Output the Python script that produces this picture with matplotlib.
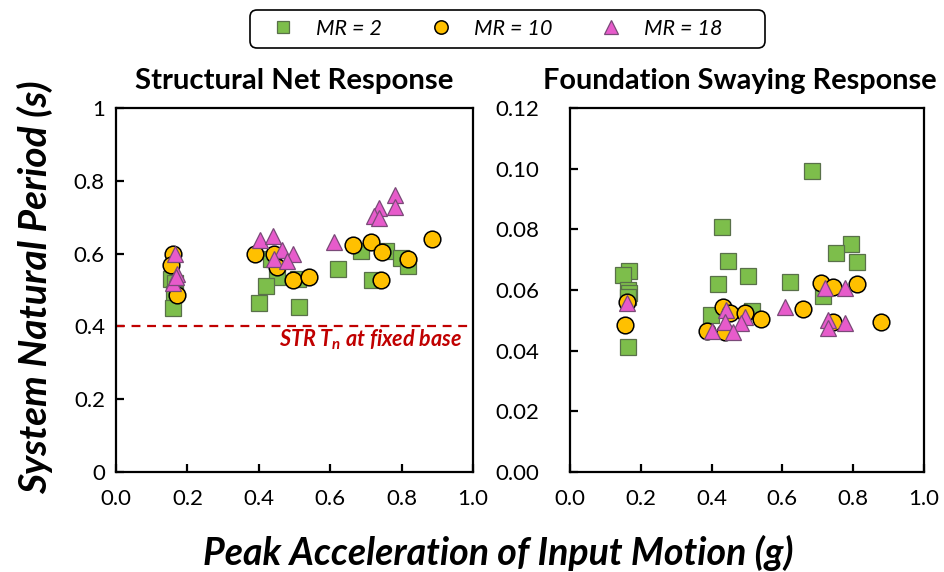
import matplotlib
matplotlib.use("Agg")
import matplotlib.pyplot as plt
from matplotlib.lines import Line2D
from matplotlib.patches import FancyBboxPatch

plt.rcParams['font.family'] = ['Lato', 'DejaVu Sans']

# Structural net response: (PGA [g], period [s])
str_mr2_x = [0.155, 0.165, 0.163, 0.160, 0.433, 0.450, 0.419, 0.400, 0.513, 0.510,
             0.623, 0.686, 0.717, 0.756, 0.799, 0.819]
str_mr2_y = [0.530, 0.520, 0.490, 0.450, 0.585, 0.535, 0.510, 0.464, 0.453, 0.530,
             0.558, 0.607, 0.527, 0.607, 0.588, 0.566]
str_mr10_x = [0.160, 0.155, 0.170, 0.388, 0.442, 0.450, 0.496, 0.541,
              0.663, 0.714, 0.745, 0.742, 0.819, 0.884]
str_mr10_y = [0.600, 0.570, 0.485, 0.600, 0.600, 0.563, 0.527, 0.535,
              0.624, 0.632, 0.604, 0.527, 0.585, 0.640]
str_mr18_x = [0.165, 0.170, 0.160, 0.168, 0.402, 0.440, 0.464, 0.496, 0.442, 0.480,
              0.612, 0.782, 0.782, 0.736, 0.722, 0.736]
str_mr18_y = [0.600, 0.545, 0.520, 0.535, 0.637, 0.648, 0.610, 0.600, 0.585, 0.580,
              0.632, 0.761, 0.728, 0.725, 0.703, 0.698]

# Foundation swaying response: (PGA [g], period [s])
fnd_mr2_x = [0.166, 0.149, 0.163, 0.166, 0.163, 0.163, 0.430, 0.447, 0.503, 0.419,
             0.399, 0.514, 0.683, 0.795, 0.750, 0.812, 0.621, 0.716]
fnd_mr2_y = [0.0663, 0.0650, 0.0600, 0.0590, 0.0577, 0.0412, 0.0808, 0.0696, 0.0646, 0.0620,
             0.0518, 0.0531, 0.0992, 0.0752, 0.0722, 0.0692, 0.0626, 0.0580]
fnd_mr10_x = [0.160, 0.154, 0.433, 0.452, 0.494, 0.539, 0.388, 0.438,
              0.708, 0.742, 0.812, 0.657, 0.744, 0.879]
fnd_mr10_y = [0.0560, 0.0485, 0.0544, 0.0524, 0.0524, 0.0504, 0.0465, 0.0462,
              0.0623, 0.0610, 0.0620, 0.0537, 0.0495, 0.0495]
fnd_mr18_x = [0.160, 0.441, 0.438, 0.494, 0.483, 0.402, 0.461,
              0.719, 0.778, 0.607, 0.728, 0.730, 0.778]
fnd_mr18_y = [0.0557, 0.0534, 0.0495, 0.0511, 0.0491, 0.0465, 0.0462,
              0.0607, 0.0607, 0.0544, 0.0501, 0.0475, 0.0491]

fixed_base_Tn = 0.4
series_labels = ['MR = 2', 'MR = 10', 'MR = 18']
panel_titles = ['Structural Net Response', 'Foundation Swaying Response']
x_ticks = [0.0, 0.2, 0.4, 0.6, 0.8, 1.0]
str_y_ticks = [0, 0.2, 0.4, 0.6, 0.8, 1]
fnd_y_ticks = [0.00, 0.02, 0.04, 0.06, 0.08, 0.10, 0.12]

styles = [
    dict(marker='s', ms=11, mfc='#7DBE4B', mec='#59704A', mew=0.9),
    dict(marker='o', ms=12, mfc='#FFC000', mec='#000000', mew=1.1),
    dict(marker='^', ms=12, mfc='#E75BCB', mec='#7A4A78', mew=0.9),
]

fig = plt.figure(figsize=(9.44, 5.72), dpi=100)
W, H = 944, 572
ax1 = fig.add_axes([116 / W, 1 - 472 / H, 357 / W, 364 / H])
ax2 = fig.add_axes([570 / W, 1 - 472 / H, 354 / W, 364 / H])

left_data = [(str_mr2_x, str_mr2_y), (str_mr10_x, str_mr10_y), (str_mr18_x, str_mr18_y)]
right_data = [(fnd_mr2_x, fnd_mr2_y), (fnd_mr10_x, fnd_mr10_y), (fnd_mr18_x, fnd_mr18_y)]

for ax, data in ((ax1, left_data), (ax2, right_data)):
    for (xs, ys), st in zip(data, styles):
        ax.plot(xs, ys, ls='none', zorder=3, **st)

for ax in (ax1, ax2):
    ax.set_xlim(0, 1)
    ax.set_xticks(x_ticks)
    ax.set_xticklabels([f'{v:.1f}' for v in x_ticks])
    for sp in ax.spines.values():
        sp.set_linewidth(1.6)
        sp.set_color('black')
    ax.tick_params(direction='in', length=6, width=1.6, labelsize=16,
                   top=False, right=False)
    ax.tick_params(axis='x', pad=12)

ax1.tick_params(axis='y', pad=8)
ax2.tick_params(axis='y', pad=22)

ax1.set_ylim(0, 1)
ax1.set_yticks(str_y_ticks)
ax1.set_yticklabels(['0', '0.2', '0.4', '0.6', '0.8', '1'])
ax2.set_ylim(0, 0.12)
ax2.set_yticks(fnd_y_ticks)
ax2.set_yticklabels([f'{v:.2f}' for v in fnd_y_ticks])

ax1.set_title(panel_titles[0], fontsize=21.2, fontweight='bold', pad=14)
ax2.set_title(panel_titles[1], fontsize=20.8, fontweight='bold', pad=14, x=0.48)

# fixed-base structural period
ax1.axhline(fixed_base_Tn, color='#C00000', ls=(0, (4, 3)), lw=1.6, zorder=2)
ax1.text(0.969, 0.363, r'STR T$_\mathregular{n}$ at fixed base',
         color='#C00000', fontsize=15.5, fontweight='bold', fontstyle='italic',
         ha='right', va='center', transform=ax1.get_yaxis_transform())

fig.text(35 / W, (1 - 472 / H + 1 - 108 / H) / 2 + 0.005, 'System Natural Period (s)',
         rotation=90, ha='center', va='center', fontsize=28,
         fontweight='bold', fontstyle='italic')
fig.text(498 / W, 1 - 553 / H, 'Peak Acceleration of Input Motion (g)', ha='center',
         va='center', fontsize=27, fontweight='bold', fontstyle='italic')

# legend entries without frame; rounded frame drawn separately
handles = [Line2D([], [], ls='none', **{**st, 'ms': st['ms'] * 0.8}) for st in styles]
leg = fig.legend(handles, series_labels, loc='center left', ncol=3,
                 bbox_to_anchor=(250 / W, 1 - 29 / H), frameon=False,
                 prop=dict(size=15.5, style='italic'),
                 columnspacing=1.6, handletextpad=0.4, borderpad=0.4,
                 handlelength=2.27, borderaxespad=0)
frame = FancyBboxPatch((2.50, (H - 48) / 100), 5.15, 0.38,
                       boxstyle='round,pad=0,rounding_size=0.07',
                       transform=fig.dpi_scale_trans, facecolor='white',
                       edgecolor='black', lw=1.2, zorder=0)
fig.patches.append(frame)

fig.savefig('out.png', dpi=100)
